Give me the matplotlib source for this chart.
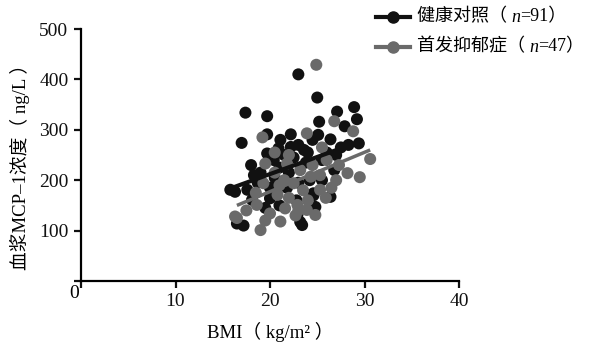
import matplotlib
matplotlib.use("Agg")
import matplotlib.pyplot as plt
from matplotlib.lines import Line2D

plt.rcParams['font.family'] = ['Liberation Serif', 'Noto Sans CJK SC']

# ---- data ----
ctrl_bmi = [23.0, 25.0, 17.4, 19.7, 27.1, 28.9, 29.2, 25.2, 27.9, 17.0, 29.4, 28.3, 26.4, 25.1,
            19.7, 22.2, 21.1, 20.9, 22.2, 23.6, 19.7, 20.4, 18.3, 17.6, 15.8, 16.3, 18.1, 20.0,
            16.5, 17.2, 23.2, 23.4, 22.9, 24.8, 24.6, 26.4, 24.6,
            21.5, 22.5, 23.0, 24.0, 24.5, 21.0, 19.0, 18.7, 20.5, 21.8, 22.0, 23.8, 25.5, 26.0,
            27.0, 19.5, 21.0, 25.5, 26.8, 18.0, 20.0, 23.0, 24.2, 27.5, 22.8]
ctrl_mcp1 = [410, 364, 334, 327, 336, 345, 321, 316, 307, 274, 273, 270, 281, 290,
             291, 291, 280, 263, 266, 260, 253, 240, 210, 181, 181, 177, 161, 164,
             114, 110, 117, 111, 131, 147, 170, 167, 174,
             250, 245, 270, 255, 280, 225, 215, 195, 205, 185, 215, 235, 240, 255,
             250, 145, 150, 200, 220, 230, 185, 195, 200, 265, 160]

dep_bmi = [24.9, 26.8, 28.8, 23.9, 19.2, 30.6, 29.5, 28.2, 27.3, 25.3, 25.3, 25.9, 23.9, 16.3,
           19.0, 21.1, 19.3, 19.5, 21.8, 23.2, 24.3, 22.5, 20.8, 21.6, 22.9, 20.0, 24.8, 18.6,
           16.5, 20.5, 21.5, 22.0, 23.5, 24.5, 26.0, 27.0, 18.5, 22.0, 23.0, 26.5, 20.5, 24.0,
           25.5, 19.5, 17.5, 22.7, 21.0]
dep_mcp1 = [429, 317, 297, 293, 285, 242, 206, 214, 230, 210, 181, 165, 141, 128,
            101, 118, 194, 233, 233, 220, 207, 194, 171, 144, 151, 134, 131, 151,
            125, 215, 200, 250, 180, 230, 240, 200, 175, 165, 140, 185, 255, 160,
            265, 120, 140, 130, 190]

# regression lines (endpoints)
ctrl_fit_x = [16.0, 29.4]
ctrl_fit_y = [185, 276]
dep_fit_x = [16.5, 30.6]
dep_fit_y = [150, 260]

x_ticks = [0, 10, 20, 30, 40]
x_ticklabels = ['', '10', '20', '30', '40']
y_ticks = [0, 100, 200, 300, 400, 500]
y_ticklabels = ['', '100', '200', '300', '400', '500']

group_names = ['健康对照', '首发抑郁症']
group_n = ['91', '47']
c_black = '#111111'
c_gray = '#6a6a6a'

W, H = 592, 351
fig = plt.figure(figsize=(W/100, H/100), dpi=100)
ax = fig.add_axes([81/W, 1-281/H, (459-81)/W, (281-29)/H])

ax.scatter(ctrl_bmi, ctrl_mcp1, s=75, color=c_black, edgecolors='none', zorder=2)
ax.scatter(dep_bmi, dep_mcp1, s=75, color=c_gray, edgecolors='none', zorder=3)
ax.plot(ctrl_fit_x, ctrl_fit_y, color=c_black, lw=3, zorder=4, solid_capstyle='butt')
ax.plot(dep_fit_x, dep_fit_y, color=c_gray, lw=2.5, zorder=5, solid_capstyle='butt')

ax.set_xlim(0, 40)
ax.set_ylim(0, 500)
ax.set_xticks(x_ticks)
ax.set_xticklabels(x_ticklabels)
ax.set_yticks(y_ticks)
ax.set_yticklabels(y_ticklabels)
for s in ['top', 'right']:
    ax.spines[s].set_visible(False)
for s in ['left', 'bottom']:
    ax.spines[s].set_linewidth(1.6)
ax.tick_params(axis='both', width=1.6, length=5, labelsize=14, pad=4, colors='#111111')
ax.text(-0.2, -8, '0', ha='right', va='top', fontsize=14, transform=ax.transData)

ax.set_xlabel('BMI（ kg/m² ）', fontsize=13.5, labelpad=8)
ax.set_ylabel('血浆MCP–1浓度（ ng/L ）', fontsize=13.5)
ax.yaxis.set_label_coords(-0.135, 0.47)

# manual legend (to allow italic n)
rows_y = [17, 47]
for name, n, col, yy in zip(group_names, group_n, [c_black, c_gray], rows_y):
    yf = 1 - yy / H
    fig.add_artist(Line2D([376/W, 410/W], [yf, yf], transform=fig.transFigure,
                          color=col, lw=3, marker=None))
    fig.add_artist(Line2D([393/W], [yf], transform=fig.transFigure,
                          color=col, marker='o', markersize=8, lw=0))
    t1 = fig.text(417/W, yf, name + '（ ', fontsize=13, va='center', ha='left')
    t2 = ax.annotate('n', xy=(1, 0), xycoords=t1, va='bottom', ha='left',
                     fontsize=13, style='italic', annotation_clip=False)
    ax.annotate('=' + n + '）', xy=(1, 0), xycoords=t2, va='bottom', ha='left',
                fontsize=13, annotation_clip=False)

fig.savefig('out.png', dpi=100)
